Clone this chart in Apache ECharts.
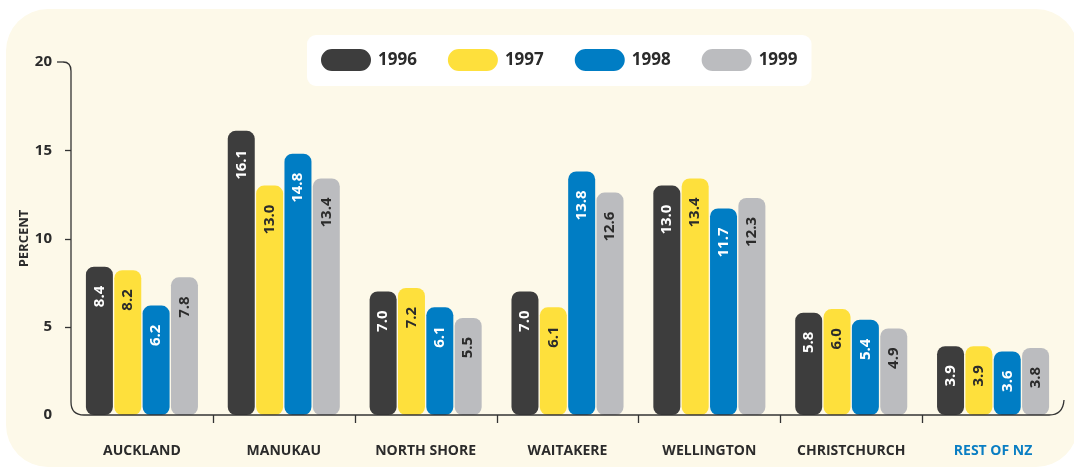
<!DOCTYPE html>
<html><head><meta charset="utf-8">
<script src="https://cdn.jsdelivr.net/npm/echarts@6/dist/echarts.min.js"></script>
<style>html,body{margin:0;padding:0;background:#fff}#c{width:1074px;height:468px}</style>
</head><body><div id="c"></div>
<script>
const categories = ['AUCKLAND','MANUKAU','NORTH SHORE','WAITAKERE','WELLINGTON','CHRISTCHURCH','REST OF NZ'];
const years = ['1996','1997','1998','1999'];
const v1996 = [8.4,16.1,7.0,7.0,13.0,5.8,3.9];
const v1997 = [8.2,13.0,7.2,6.1,13.4,6.0,3.9];
const v1998 = [6.2,14.8,6.1,13.8,11.7,5.4,3.6];
const v1999 = [7.8,13.4,5.5,12.6,12.3,4.9,3.8];
const yMin = 0, yMax = 20, yStep = 5;

const seriesValues = [v1996, v1997, v1998, v1999];
const colors = ['#3d3d3d', '#fee03c', '#007dc4', '#bbbcbf'];
const labelColors = ['#ffffff', '#2b2b2b', '#ffffff', '#2b2b2b'];
const FONT = "'Open Sans', 'Noto Sans', sans-serif";
const W = 1074, H = 468;
const GRID = {left: 71, right: 10, top: 62, bottom: 53};

const pill = 'path://M11,0 H39 A11,11 0 0 1 39,22 H11 A11,11 0 0 1 11,0 Z';

const option = {
  backgroundColor: '#ffffff',
  animation: false,
  textStyle: {fontFamily: FONT},
  grid: {left: GRID.left, right: GRID.right, top: GRID.top, bottom: GRID.bottom, containLabel: false},
  legend: {
    data: years,
    left: 307, top: 35,
    padding: [14, 14, 15, 14],
    backgroundColor: '#ffffff',
    borderRadius: 9,
    itemWidth: 50, itemHeight: 22, itemGap: 31,
    icon: pill,
    textStyle: {fontFamily: FONT, fontSize: 17, fontWeight: 'bold', color: '#2b2b2b', padding: [0,0,0,2]}
  },
  xAxis: {
    type: 'category',
    data: categories,
    axisLine: {show: false},
    axisTick: {show: false},
    axisLabel: {
      margin: 29,
      fontFamily: FONT, fontSize: 14, fontWeight: 'bold',
      color: function (v, i) { return i === categories.length - 1 ? '#0a7ec3' : '#2b2b2b'; }
    }
  },
  yAxis: {
    type: 'value',
    min: yMin, max: yMax, interval: yStep,
    name: 'PERCENT',
    nameLocation: 'middle', nameRotate: 90, nameGap: 40,
    nameMoveOverlap: false,
    nameTextStyle: {fontFamily: FONT, fontSize: 13, fontWeight: 'bold', color: '#2b2b2b'},
    axisLine: {show: false},
    axisTick: {show: false},
    splitLine: {show: false},
    axisLabel: {margin: 19, fontFamily: FONT, fontSize: 15, fontWeight: 'bold', color: '#2b2b2b'}
  },
  series: years.map((y, k) => ({
    name: y,
    type: 'bar',
    data: seriesValues[k],
    barWidth: 27,
    barGap: '5%',
    itemStyle: {color: colors[k], borderRadius: 8},
    label: {
      show: true,
      position: 'insideTop',
      distance: 19,
      rotate: 90,
      align: 'right',
      verticalAlign: 'middle',
      fontFamily: FONT, fontSize: 15, fontWeight: 'bold',
      color: labelColors[k],
      formatter: p => p.value.toFixed(1)
    }
  }))
};

const chart = echarts.init(document.getElementById('c'), null, {renderer: 'canvas'});
chart.setOption(option);

const xL = GRID.left, xR = W - GRID.right;
const yTop = chart.convertToPixel({yAxisIndex: 0}, yMax);
const yBot = chart.convertToPixel({yAxisIndex: 0}, yMin);
const centers = categories.map((c, i) => chart.convertToPixel({xAxisIndex: 0}, i));
const ls = {stroke: '#333333', lineWidth: 1.3, fill: null};

const graphics = [];
graphics.push({type: 'rect', z: -100, silent: true,
  shape: {x: 6, y: 9, width: 1072, height: 458, r: 42},
  style: {fill: '#fdf9e9'}});
function line(x1, y1, x2, y2) {
  graphics.push({type: 'line', z: 10, silent: true, shape: {x1, y1, x2, y2}, style: ls});
}
function curve(x1, y1, cx, cy, x2, y2) {
  graphics.push({type: 'bezierCurve', z: 10, silent: true,
    shape: {x1, y1, x2, y2, cpx1: cx, cpy1: cy}, style: ls});
}
// rounded axis frame
line(xL - 14, yTop, xL - 8, yTop);
curve(xL - 8, yTop, xL, yTop, xL, yTop + 9);
line(xL, yTop + 9, xL, yBot - 13);
curve(xL, yBot - 13, xL, yBot, xL + 13, yBot);
line(xL + 13, yBot, xR - 15, yBot);
curve(xR - 15, yBot, xR - 1, yBot, xR, yBot - 15);
for (let v = yMin + yStep; v < yMax; v += yStep) {
  const py = Math.round(chart.convertToPixel({yAxisIndex: 0}, v)) + 0.5;
  line(xL - 6, py, xL, py);
}
for (let i = 0; i < centers.length - 1; i++) {
  const px = Math.round((centers[i] + centers[i + 1]) / 2) + 0.5;
  line(px, yBot, px, yBot + 8);
}
chart.setOption({graphic: graphics});
</script>
</body></html>
